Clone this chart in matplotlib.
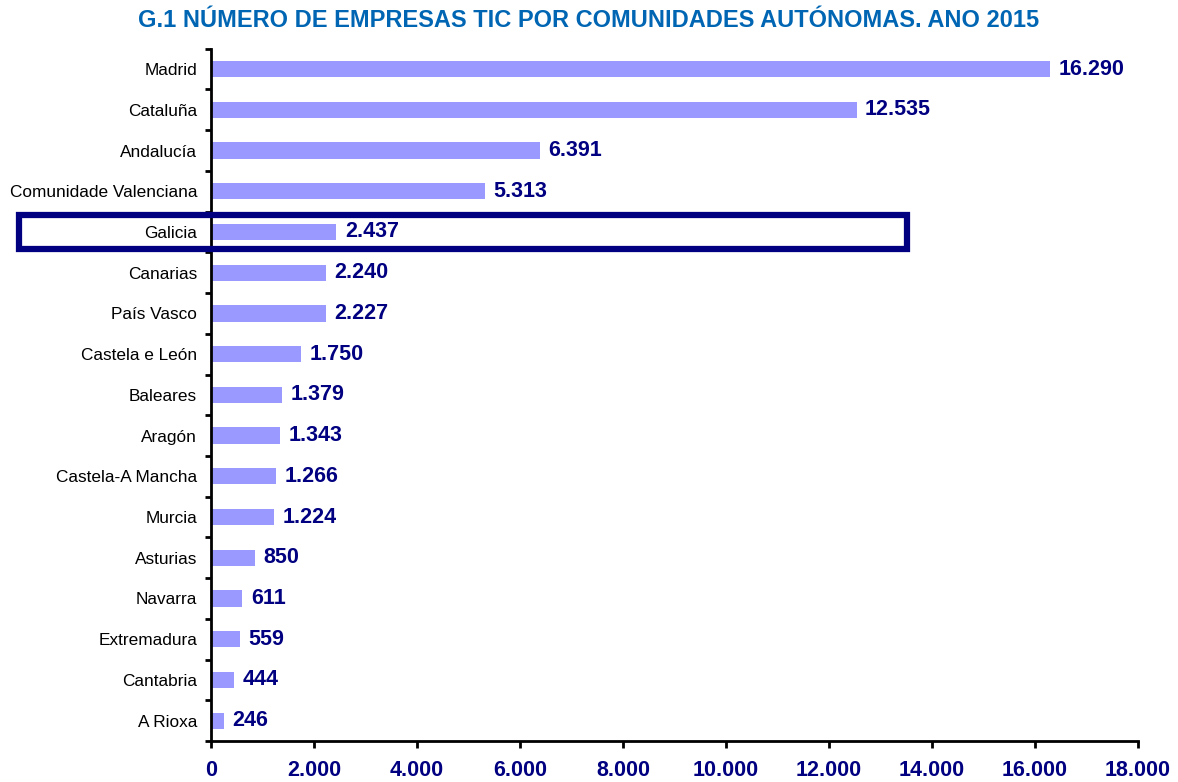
import numpy as np
import matplotlib
matplotlib.use("Agg")
import matplotlib.pyplot as plt
import matplotlib.patches as patches
import matplotlib.transforms as mtransforms

plt.rcParams['font.family'] = ['Liberation Sans', 'DejaVu Sans']

comunidades = ["Madrid", "Cataluña", "Andalucía", "Comunidade Valenciana", "Galicia",
               "Canarias", "País Vasco", "Castela e León", "Baleares", "Aragón",
               "Castela-A Mancha", "Murcia", "Asturias", "Navarra", "Extremadura",
               "Cantabria", "A Rioxa"]
empresas = [16290, 12535, 6391, 5313, 2437, 2240, 2227, 1750, 1379, 1343,
            1266, 1224, 850, 611, 559, 444, 246]
xticks = [0, 2000, 4000, 6000, 8000, 10000, 12000, 14000, 16000, 18000]
destacado = "Galicia"

navy = "#000080"

def fmt(v):
    return f"{v:,}".replace(",", ".")

fig = plt.figure(figsize=(11.78, 7.82), dpi=100)
ax = fig.add_axes([0.1791, 0.0524, 0.7869, 0.8853])

y = np.arange(len(comunidades))
ax.barh(y, empresas, height=0.4, color="#9999FF", zorder=2)

for yi, v in zip(y, empresas):
    ax.annotate(fmt(v), (v, yi), xytext=(6, 0), textcoords="offset points",
                va="center", ha="left", fontsize=15.5, fontweight="bold", color=navy)

ax.set_ylim(len(comunidades) - 0.5, -0.5)
ax.set_xlim(0, 18000)
ax.set_xticks(xticks)
ax.set_xticklabels([fmt(t) for t in xticks], fontsize=15.5, fontweight="bold", color=navy)
ax.tick_params(axis="x", length=5, width=2, pad=9)

# y ticks at the category boundaries, labels centred on the bars
ax.set_yticks(np.arange(len(comunidades) + 1) - 0.5)
ax.set_yticklabels([])
ax.set_yticks(y, minor=True)
ax.set_yticklabels(comunidades, minor=True, fontsize=12.4)
ax.tick_params(axis="y", which="major", length=4, width=2)
ax.tick_params(axis="y", which="minor", length=0, pad=10)

for s in ["top", "right"]:
    ax.spines[s].set_visible(False)
ax.spines["left"].set_linewidth(2)
ax.spines["bottom"].set_linewidth(2)

# highlight box around Galicia
gi = comunidades.index(destacado)
trans = mtransforms.blended_transform_factory(fig.transFigure, ax.transData)
rect = patches.Rectangle((19 / 1178, gi - 0.42), (907 - 19) / 1178, 0.84,
                         transform=trans, fill=False, edgecolor=navy, linewidth=4.5,
                         clip_on=False, zorder=5)
ax.add_patch(rect)

fig.text(0.5, 0.974, "G.1 NÚMERO DE EMPRESAS TIC POR COMUNIDADES AUTÓNOMAS. ANO 2015",
         ha="center", va="center", fontsize=17, fontweight="bold", color="#0066B3")

fig.savefig("out.png", dpi=100)
